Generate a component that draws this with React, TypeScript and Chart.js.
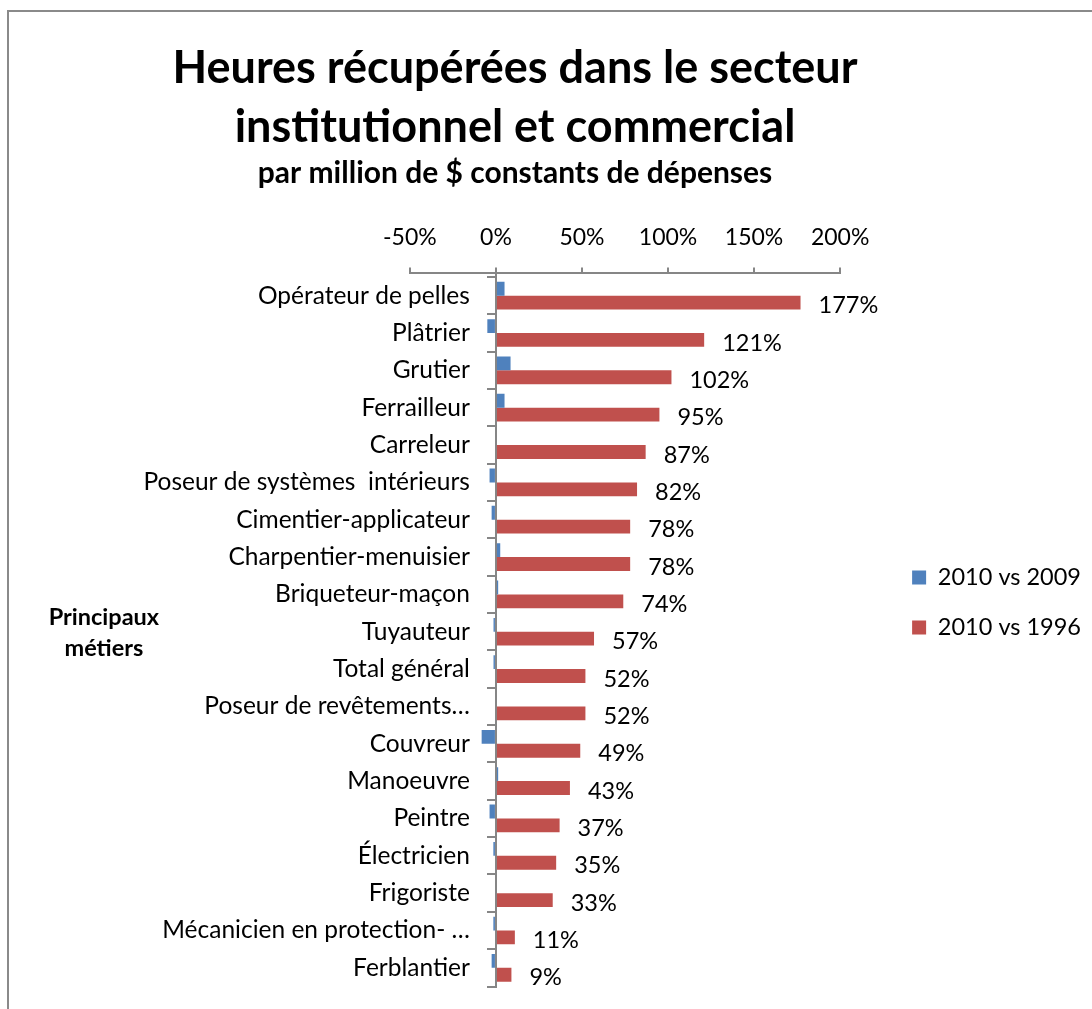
import React, { useEffect, useRef } from 'react';
import { Chart, registerables } from 'chart.js';

Chart.register(...registerables);

const categories = [
  'Opérateur de pelles',
  'Plâtrier',
  'Grutier',
  'Ferrailleur',
  'Carreleur',
  'Poseur de systèmes  intérieurs',
  'Cimentier-applicateur',
  'Charpentier-menuisier',
  'Briqueteur-maçon',
  'Tuyauteur',
  'Total général',
  'Poseur de revêtements…',
  'Couvreur',
  'Manoeuvre',
  'Peintre',
  'Électricien',
  'Frigoriste',
  'Mécanicien en protection- …',
  'Ferblantier',
];

const vs2009 = [5, -5, 8.5, 5, 0, -3.7, -2.5, 2.5, 1.3, -1.4, -1.4, 0, -8.3, 1.3, -3.7, -1.5, 0, -1.5, -2.5];
const vs1996 = [177, 121, 102, 95, 87, 82, 78, 78, 74, 57, 52, 52, 49, 43, 37, 35, 33, 11, 9];

const seriesNames = ['2010 vs 2009', '2010 vs 1996'];
const seriesColors = ['#4F81BD', '#C0504D'];
const xMin = -50;
const xMax = 200;
const xStep = 50;

const titleLines = ['Heures récupérées dans le secteur', 'institutionnel et commercial'];
const subtitleText = 'par million de $ constants de dépenses';
const axisTitleLines = ['Principaux', 'métiers'];

const FONT = 'Lato';
const AXIS_GRAY = '#868686';

export default function App() {
  const ref = useRef<HTMLCanvasElement | null>(null);

  useEffect(() => {
    const canvas = ref.current;
    if (!canvas) return;

    const legendFont = 23.5;
    const catFont = 24.5;
    const mctx = canvas.getContext('2d')!;
    mctx.font = `${legendFont}px ${FONT}`;
    const textW = Math.max(...seriesNames.map((n) => mctx.measureText(n).width));
    mctx.font = `${catFont}px ${FONT}`;
    const widestCat = Math.max(...categories.map((c) => mctx.measureText(c).width));

    // page geometry targets
    const pageChartLeft = 410;
    const pageChartWidth = 430;
    const pageTitleCenter = 515;
    const pageOriginX = 9;

    const legendPad = 26.5;
    const legendW = legendPad + 14 + legendFont / 2 + textW + 10;
    const padRAxis = 45.5;
    // left box width A, canvas width W, canvas page-left L0
    const A = pageChartWidth + padRAxis + legendW - 2 * (pageTitleCenter - pageChartLeft);
    const L0 = pageChartLeft - A;
    const W = Math.round(2 * (pageTitleCenter - L0));
    const leftBox = pageChartLeft - L0;
    canvas.width = W;
    canvas.style.width = W + 'px';
    canvas.style.left = L0 - pageOriginX + 'px';

    const bandShift = 4.5;
    const labelGap = 60; // label right edge is 60px right of chart-area left

    const dataLabels = {
      id: 'dataLabels',
      afterDatasetsDraw(chart: any) {
        const ctx = chart.ctx;
        const meta = chart.getDatasetMeta(1);
        ctx.save();
        ctx.font = `23.5px ${FONT}`;
        ctx.fillStyle = '#000';
        ctx.textAlign = 'left';
        ctx.textBaseline = 'middle';
        meta.data.forEach((el: any, i: number) => {
          ctx.fillText(vs1996[i] + '%', el.x + 18, el.y + 3);
        });
        ctx.restore();
      },
    };

    const shiftBands = {
      id: 'shiftBands',
      afterLayout(chart: any) {
        ['y', 'yLabels'].forEach((id) => {
          const s = chart.scales[id];
          s._startPixel += bandShift;
          s._length -= bandShift;
        });
      },
    };

    const axisTitle = {
      id: 'axisTitle',
      afterDraw(chart: any) {
        const ctx = chart.ctx;
        ctx.save();
        ctx.font = `bold 23.5px ${FONT}`;
        ctx.fillStyle = '#000';
        ctx.textAlign = 'center';
        ctx.textBaseline = 'middle';
        ctx.fillText(axisTitleLines[0], 104 - L0, 605);
        ctx.fillText(axisTitleLines[1], 104 - L0, 636);
        ctx.restore();
      },
    };

    const chart = new Chart(canvas, {
      type: 'bar',
      data: {
        labels: categories,
        datasets: [
          {
            label: seriesNames[0],
            data: vs2009,
            backgroundColor: seriesColors[0],
            borderWidth: 0,
            categoryPercentage: 0.742,
            barPercentage: 1,
          },
          {
            label: seriesNames[1],
            data: vs1996,
            backgroundColor: seriesColors[1],
            borderWidth: 0,
            categoryPercentage: 0.742,
            barPercentage: 1,
          },
        ],
      },
      options: {
        indexAxis: 'y',
        responsive: false,
        animation: false,
        layout: {
          autoPadding: false,
          padding: { left: 0, right: 0, top: 0, bottom: 22.5 },
        },
        scales: {
          x: {
            type: 'linear',
            position: 'top',
            min: xMin,
            max: xMax,
            afterFit: (s: any) => {
              s.height = 84.5;
            },
            ticks: {
              stepSize: xStep,
              font: { family: FONT, size: 23 },
              color: '#000',
              padding: 16,
              callback: (v: any) => v + '%',
            },
            grid: {
              display: true,
              drawOnChartArea: false,
              drawTicks: true,
              tickLength: 5,
              color: AXIS_GRAY,
              lineWidth: 2,
            },
            border: { display: true, color: AXIS_GRAY, width: 2 },
          },
          y: {
            type: 'category',
            position: { x: 0 } as any,
            offset: true,
            ticks: { display: false, autoSkip: false },
            grid: {
              display: true,
              drawOnChartArea: false,
              drawTicks: true,
              tickLength: 8,
              color: AXIS_GRAY,
              lineWidth: 2,
              offset: true,
            },
            border: { display: true, color: AXIS_GRAY, width: 2 },
          },
          yLabels: {
            type: 'category',
            axis: 'y',
            position: 'left',
            offset: true,
            display: true,
            ticks: {
              font: { family: FONT, size: catFont },
              color: '#000',
              mirror: true,
              crossAlign: 'far',
              padding: labelGap - widestCat,
              autoSkip: false,
            },
            grid: { display: false, drawTicks: false },
            border: { display: false },
            afterFit: (s: any) => {
              s.width = leftBox;
            },
          },
          padR: {
            type: 'linear',
            axis: 'y',
            position: 'right',
            display: true,
            grid: { display: false, drawTicks: false },
            border: { display: false },
            ticks: { display: false },
            afterFit: (s: any) => {
              s.width = padRAxis;
            },
          },
        } as any,
        plugins: {
          title: {
            display: true,
            text: titleLines,
            color: '#000',
            font: { family: FONT, size: 45, weight: 'bold', lineHeight: '59px' },
            padding: { top: 26.5, bottom: 0 },
          },
          subtitle: {
            display: true,
            text: subtitleText,
            color: '#000',
            font: { family: FONT, size: 30, weight: 'bold', lineHeight: '30px' },
            padding: { top: 1.5, bottom: 0 },
          },
          legend: {
            display: true,
            position: 'right',
            align: 'start',
            fullSize: false,
            maxWidth: 400,
            title: {
              display: true,
              text: ' ',
              font: { family: FONT, size: 10, lineHeight: 1 },
              padding: { top: 256.75, bottom: 0 },
            },
            labels: {
              boxWidth: 14,
              boxHeight: 14,
              padding: legendPad,
              color: '#000',
              font: { family: FONT, size: legendFont },
            },
          },
          tooltip: { enabled: false },
        },
      } as any,
      plugins: [dataLabels, shiftBands, axisTitle],
    });

    return () => {
      chart.destroy();
    };
  }, []);

  return (
    <div
      style={{
        position: 'absolute',
        left: 7,
        top: 10,
        width: 1085,
        height: 999,
        boxSizing: 'border-box',
        borderLeft: '2px solid #8a8a8a',
        borderTop: '2px solid #8a8a8a',
        overflow: 'hidden',
        background: '#fff',
      }}
    >
      <canvas
        ref={ref}
        width={1190}
        height={997}
        style={{ position: 'absolute', left: -89, top: 0, width: 1190, height: 997, display: 'block' }}
      />
    </div>
  );
}
